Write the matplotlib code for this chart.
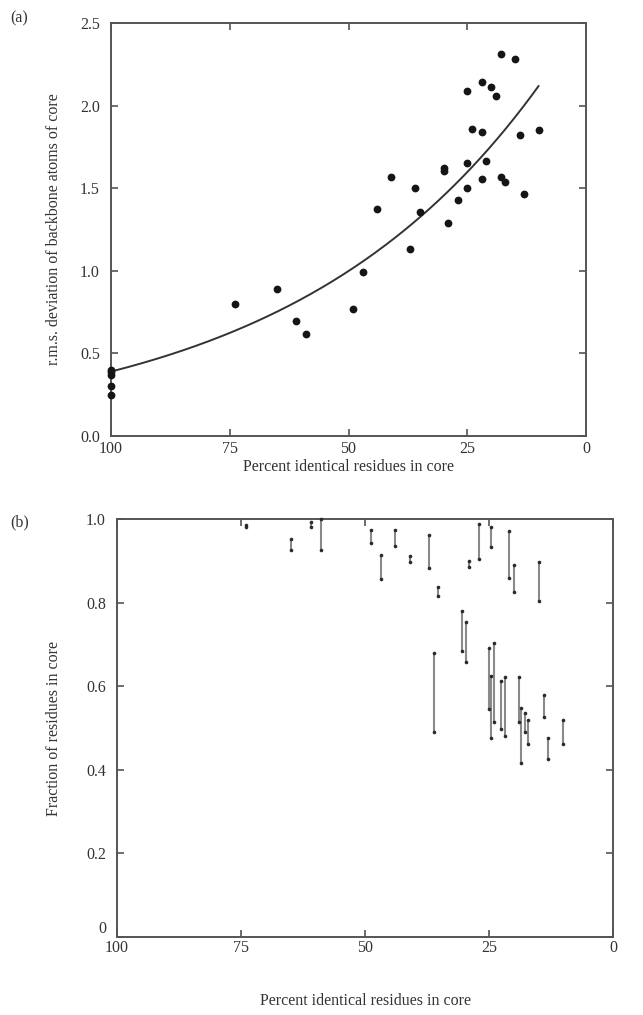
import numpy as np
import matplotlib
matplotlib.use("Agg")
import matplotlib.pyplot as plt

plt.rcParams['font.family'] = ['Liberation Serif', 'DejaVu Serif']

# ---------------- Panel (a) data ----------------
pct_a = [18, 15, 22, 25, 20, 19, 24, 22, 14, 10, 30, 30, 25, 21, 41, 36, 25, 22,
         18, 17, 13, 44, 35, 27, 29, 37, 47, 74, 65, 49, 61, 59,
         100, 100, 100, 100, 100]
rms_a = [2.31, 2.28, 2.14, 2.09, 2.11, 2.06, 1.86, 1.84, 1.82, 1.85, 1.625, 1.607,
         1.65, 1.666, 1.57, 1.50, 1.50, 1.557, 1.57, 1.54, 1.466, 1.374, 1.358,
         1.427, 1.287, 1.13, 0.99, 0.80, 0.887, 0.768, 0.698, 0.617,
         0.40, 0.385, 0.37, 0.30, 0.25]
fit_a, fit_b = 0.39, 1.88          # rms = a * exp(b * (1 - pct/100))
fit_range = [100, 10]

# ---------------- Panel (b) data ----------------
pct_b = [73.9, 60.9, 58.8, 64.9, 48.8, 46.8, 43.9, 40.9, 37.1, 35.2, 29.0, 27.1,
         24.6, 21.0, 20.0, 15.0, 36.0, 30.5, 29.7, 24.9, 24.6, 24.0, 22.5, 21.7,
         19.0, 18.5, 17.8, 17.1, 14.0, 13.1, 10.0]
frac_hi = [0.986, 0.994, 1.000, 0.952, 0.974, 0.915, 0.974, 0.911, 0.9625, 0.8375,
           0.900, 0.9875, 0.980, 0.972, 0.890, 0.898, 0.679, 0.779, 0.753, 0.691,
           0.624, 0.703, 0.6125, 0.621, 0.621, 0.548, 0.537, 0.519, 0.579, 0.477, 0.519]
frac_lo = [0.981, 0.982, 0.925, 0.927, 0.943, 0.856, 0.936, 0.896, 0.882, 0.816,
           0.884, 0.905, 0.934, 0.859, 0.826, 0.804, 0.491, 0.684, 0.658, 0.545,
           0.476, 0.515, 0.498, 0.482, 0.515, 0.416, 0.490, 0.4625, 0.527, 0.427, 0.4625]

xticks = [100, 75, 50, 25, 0]
xticklabels = ['100', '75', '50', '25', '0']
yticks_a = [0.0, 0.5, 1.0, 1.5, 2.0, 2.5]
yticklabels_a = ['0.0', '0.5', '1.0', '1.5', '2.0', '2.5']
yticks_b = [0, 0.2, 0.4, 0.6, 0.8, 1.0]
yticklabels_b = ['0', '0.2', '0.4', '0.6', '0.8', '1.0']

W, H = 643, 1015
fig = plt.figure(figsize=(W / 100, H / 100), dpi=100)

spine_col = '#555555'
txt_col = '#333333'
fs = 11.5

def style(ax, ypad, xpad):
    for s in ax.spines.values():
        s.set_color(spine_col)
        s.set_linewidth(1.4)
    ax.tick_params(direction='in', length=5, width=1.2, color=spine_col,
                   top=True, right=True, labelsize=fs, labelcolor=txt_col)
    ax.tick_params(axis='y', pad=ypad)
    ax.tick_params(axis='x', pad=xpad)

# ---- (a)
ax1 = fig.add_axes([111 / W, 1 - 436 / H, 475 / W, 413 / H])
ax1.set_xlim(100, 0)
ax1.set_ylim(0, 2.5)
xs = np.linspace(fit_range[0], fit_range[1], 200)
ax1.plot(xs, fit_a * np.exp(fit_b * (1 - xs / 100)), color='#333333', lw=1.4, zorder=2)
ax1.plot(pct_a, rms_a, 'o', color='#151515', ms=5.6, mew=0, clip_on=False, zorder=3)
style(ax1, ypad=8, xpad=3.5)
ax1.set_xticks(xticks)
ax1.set_xticklabels(xticklabels)
ax1.set_yticks(yticks_a)
ax1.set_yticklabels(yticklabels_a)
ax1.set_xlabel('Percent identical residues in core', fontsize=fs, color=txt_col, labelpad=1.5)
ax1.set_ylabel('r.m.s. deviation of backbone atoms of core', fontsize=fs, color=txt_col, labelpad=13)
fig.text(10 / W, 1 - 18 / H, '(a)', fontsize=fs, color=txt_col, va='center', ha='left')

# ---- (b)
ax2 = fig.add_axes([117 / W, 1 - 937 / H, 496 / W, 418 / H])
ax2.set_xlim(100, 0)
ax2.set_ylim(0, 1.0)
ax2.vlines(pct_b, frac_lo, frac_hi, color='#8a8a8a', lw=1.5, zorder=2)
ax2.plot(pct_b, frac_hi, 'o', color='#2a2a2a', ms=2.6, mew=0, zorder=3, clip_on=False)
ax2.plot(pct_b, frac_lo, 'o', color='#2a2a2a', ms=2.6, mew=0, zorder=3, clip_on=False)
style(ax2, ypad=8, xpad=2)
ax2.set_xticks(xticks)
ax2.set_xticklabels(xticklabels)
ax2.set_yticks(yticks_b)
ax2.set_yticklabels(yticklabels_b)
ax2.get_yticklabels()[0].set_verticalalignment('bottom')
ax2.set_xlabel('Percent identical residues in core', fontsize=fs, color=txt_col, labelpad=27)
ax2.set_ylabel('Fraction of residues in core', fontsize=fs, color=txt_col, labelpad=17)
fig.text(10 / W, 1 - 522 / H, '(b)', fontsize=fs, color=txt_col, va='center', ha='left')

fig.savefig('out.png', dpi=100)
